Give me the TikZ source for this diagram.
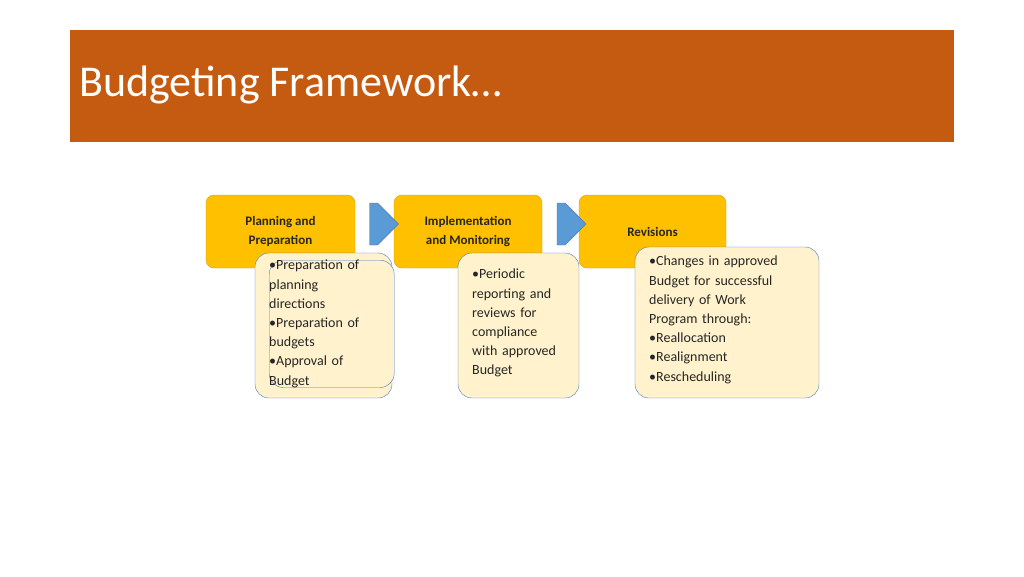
\documentclass[tikz,border=0pt]{standalone}
\usepackage{fontspec}
\setmainfont{Carlito}
\usetikzlibrary{positioning,shapes.arrows}
\definecolor{hdr}{HTML}{C55A11}
\definecolor{gold}{HTML}{FFC000}
\definecolor{cream}{HTML}{FFF2CC}
\definecolor{edge}{HTML}{4A78C0}
\definecolor{arrowblue}{HTML}{5B9BD5}
\begin{document}
\begin{tikzpicture}[x=1pt,y=-1pt,
  stage/.style={fill=gold, draw=gold!85!black, rounded corners=8pt, align=center,
    font=\fontsize{13}{19}\selectfont\bfseries, text=black!85, inner sep=0pt},
  detail/.style={fill=cream, draw=edge, rounded corners=14pt, align=left,
    font=\fontsize{14}{19.2}\selectfont, text=black!85, inner sep=0pt},
  flow/.style={single arrow, fill=arrowblue, draw=edge, minimum height=29pt,
    minimum width=42pt, single arrow head extend=0pt, inner sep=0pt},
]
\useasboundingbox (0,0) rectangle (1024,576);
\fill[hdr] (70,30) rectangle (954,142);
\node[anchor=west, text=white, font=\fontsize{44}{50}\selectfont, inner sep=0pt] (title) at (79,85) {Budgeting Framework…};

\node[stage, minimum width=149pt, minimum height=73pt] (plan) at (280.5,231.5) {Planning and\\Preparation};
\node[stage, minimum width=148pt, minimum height=73pt] (impl) at (468,231.5) {Implementation\\and Monitoring};
\node[stage, minimum width=147pt, minimum height=73pt] (rev) at (652.5,231.5) {Revisions};

\node[flow] (a1) at (373.5,224) {};
\node[flow] (a2) at (561,224) {};

\node[detail, minimum width=137pt, minimum height=145pt] (plandet) at (323.5,325.5) {};
\node[detail, anchor=north west, font=\fontsize{14}{19.2}\selectfont, text width=125pt] at (269,260)
  {•Preparation of\\planning\\directions\\•Preparation of\\budgets\\•Approval of\\Budget};
\node[detail, minimum width=121pt, minimum height=145pt] (impldet) at (518.5,325.5) {};
\node[detail, draw=none, fill=none, anchor=north west, text width=110pt] at (472,269)
  {•Periodic\\reporting and\\reviews for\\compliance\\with approved\\Budget};
\node[detail, minimum width=184pt, minimum height=151pt] (revdet) at (727,322.5) {};
\node[detail, draw=none, fill=none, anchor=north west, text width=170pt] at (649,256)
  {•Changes in approved\\Budget for successful\\delivery of Work\\Program through:\\•Reallocation\\•Realignment\\•Rescheduling};
\end{tikzpicture}
\end{document}
